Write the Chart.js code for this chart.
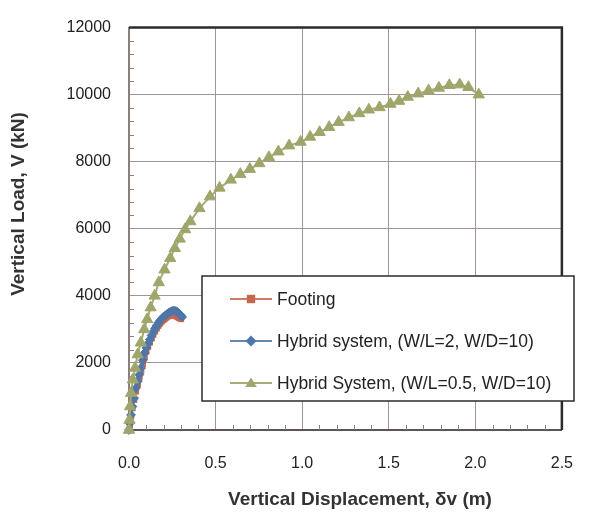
<!DOCTYPE html>
<html>
<head>
<meta charset="utf-8">
<script src="https://cdn.jsdelivr.net/npm/chart.js@4/dist/chart.umd.min.js"></script>
<style>
html,body{margin:0;padding:0;background:#fff;}
canvas{display:block;}
</style>
</head>
<body>
<canvas id="c" width="597" height="515"></canvas>
<script>
// ---- data ----
const seriesNames = ["Footing", "Hybrid system, (W/L=2, W/D=10)", "Hybrid System, (W/L=0.5, W/D=10)"];

const footingX = [0,0.005,0.012,0.02,0.03,0.04,0.05,0.06,0.07,0.08,0.09,0.1,0.11,0.12,0.13,0.14,0.15,0.16,0.17,0.18,0.19,0.2,0.21,0.22,0.23,0.24,0.25,0.26,0.27,0.28,0.29,0.3];
const footingY = [0,150,400,650,900,1150,1350,1560,1760,1960,2170,2340,2480,2610,2730,2840,2940,3030,3110,3180,3240,3290,3330,3370,3400,3420,3430,3420,3400,3370,3340,3310];

const hybrid2X = [0,0.005,0.012,0.02,0.03,0.04,0.05,0.06,0.07,0.08,0.09,0.1,0.11,0.12,0.13,0.14,0.15,0.16,0.17,0.18,0.19,0.2,0.21,0.22,0.23,0.24,0.25,0.26,0.27,0.28,0.29,0.3,0.307];
const hybrid2Y = [0,200,450,700,950,1250,1450,1650,1850,2080,2300,2450,2580,2700,2820,2930,3030,3120,3200,3270,3330,3380,3420,3460,3500,3530,3550,3560,3550,3520,3470,3420,3370];

const hybrid05X = [0,0.003,0.006,0.012,0.022,0.035,0.05,0.068,0.088,0.105,0.125,0.148,0.172,0.205,0.238,0.265,0.293,0.324,0.354,0.407,0.468,0.523,0.588,0.643,0.698,0.753,0.808,0.863,0.925,0.991,1.046,1.101,1.156,1.211,1.27,1.33,1.385,1.447,1.51,1.56,1.61,1.67,1.73,1.79,1.85,1.91,1.96,2.02];
const hybrid05Y = [0,300,700,1100,1500,1850,2250,2600,3000,3300,3650,4000,4400,4780,5120,5420,5700,5980,6220,6610,6960,7220,7460,7630,7780,7950,8130,8300,8480,8590,8740,8880,9030,9180,9320,9440,9550,9620,9720,9810,9930,10030,10120,10200,10280,10300,10220,10000];

const xMin = 0, xMax = 2.5, xStep = 0.5, xMinor = 0.1;
const yMin = 0, yMax = 12000, yStep = 2000, yMinor = 400;
const xTitle = "Vertical Displacement, \u03B4v (m)";
const yTitle = "Vertical Load, V (kN)";

// ---- styles ----
const colors = ["#c8664d", "#4f76a8", "#a0a66b"];
const lineColors = ["#d07a64", "#6585b3", "#a7ab76"];
const markers = ["rect", "rectRot", "triangle"];
const radii = [3.8, 4.4, 6.5];
const legendRadii = [4.2, 4.6, 5.5];
const FONT = "'Liberation Sans', Arial, sans-serif";

function pts(xs, ys){ return xs.map((x,i)=>({x:x, y:ys[i]})); }

const datasets = [
  {label: seriesNames[0], data: pts(footingX, footingY), order: 3},
  {label: seriesNames[1], data: pts(hybrid2X, hybrid2Y), order: 2},
  {label: seriesNames[2], data: pts(hybrid05X, hybrid05Y), order: 1}
].map((d,i)=>Object.assign(d, {
  showLine: true,
  borderColor: lineColors[i],
  backgroundColor: colors[i],
  pointBackgroundColor: colors[i],
  pointBorderColor: colors[i],
  pointBorderWidth: 1,
  pointStyle: markers[i],
  pointRadius: radii[i],
  borderWidth: 2,
  tension: 0,
  clip: false
}));

function drawMarker(ctx, style, x, y, r, color){
  ctx.save();
  ctx.fillStyle = color;
  ctx.beginPath();
  if (style === "rect") {
    ctx.rect(x - r, y - r, 2*r, 2*r);
  } else if (style === "rectRot") {
    ctx.moveTo(x, y - r*1.2); ctx.lineTo(x + r*1.2, y); ctx.lineTo(x, y + r*1.2); ctx.lineTo(x - r*1.2, y);
    ctx.closePath();
  } else {
    const h = r * 1.6;
    ctx.moveTo(x, y - h*0.62); ctx.lineTo(x + r*1.05, y + h*0.45); ctx.lineTo(x - r*1.05, y + h*0.45);
    ctx.closePath();
  }
  ctx.fill();
  ctx.restore();
}

const decor = {
  id: "decor",
  beforeDatasetsDraw(chart){
    const {ctx, chartArea: a, scales: {x, y}} = chart;
    ctx.save();
    ctx.strokeStyle = "#8a7f7f";
    ctx.lineWidth = 1;
    for (let v = yMin + yMinor; v < yMax - 1e-6; v += yMinor) {
      if (Math.abs(v / yStep - Math.round(v / yStep)) < 1e-6) continue;
      const p = Math.round(y.getPixelForValue(v)) + 0.5;
      ctx.beginPath(); ctx.moveTo(a.left, p); ctx.lineTo(a.left + 5, p); ctx.stroke();
    }
    for (let k = 1; k * xMinor < xMax - 1e-6; k++) {
      if (k % 5 === 0) continue;
      const p = Math.round(x.getPixelForValue(k * xMinor)) + 0.5;
      ctx.beginPath(); ctx.moveTo(p, a.bottom); ctx.lineTo(p, a.bottom - 5); ctx.stroke();
    }
    ctx.strokeStyle = "#2b2b2b";
    ctx.lineWidth = 2.5;
    ctx.beginPath();
    ctx.moveTo(a.left, a.top); ctx.lineTo(a.right, a.top); ctx.lineTo(a.right, a.bottom);
    ctx.stroke();
    ctx.restore();
  },
  afterDraw(chart){
    const {ctx} = chart;
    ctx.save();
    const L = 202, T = 276, R = 574, B = 401;
    ctx.fillStyle = "#fff";
    ctx.fillRect(L, T, R - L, B - T);
    ctx.strokeStyle = "#2b2b2b";
    ctx.lineWidth = 1.5;
    ctx.strokeRect(L, T, R - L, B - T);
    const rows = [299, 341, 383];
    ctx.font = "17.5px " + FONT;
    ctx.textBaseline = "middle";
    ctx.textAlign = "left";
    for (let i = 0; i < 3; i++) {
      const yy = rows[i];
      ctx.strokeStyle = lineColors[i];
      ctx.lineWidth = 2;
      ctx.beginPath(); ctx.moveTo(230, yy); ctx.lineTo(272, yy); ctx.stroke();
      drawMarker(ctx, markers[i], 251, yy, legendRadii[i], colors[i]);
      ctx.fillStyle = "#222";
      ctx.fillText(seriesNames[i], 277, yy + 1);
    }
    ctx.fillStyle = "#333";
    ctx.font = "bold 19px " + FONT;
    ctx.textAlign = "center";
    ctx.fillText(xTitle, 360, 500);
    ctx.translate(19, 204);
    ctx.rotate(-Math.PI / 2);
    ctx.fillText(yTitle, 0, 0);
    ctx.restore();
  }
};

new Chart(document.getElementById("c"), {
  type: "scatter",
  data: {datasets: datasets},
  plugins: [decor],
  options: {
    responsive: false,
    animation: false,
    layout: {padding: {left: 0, top: 18, right: 13, bottom: 0}},
    plugins: {legend: {display: false}, tooltip: {enabled: false}},
    scales: {
      x: {
        type: "linear", min: xMin, max: xMax,
        afterFit(s){ s.height = 85; },
        ticks: {stepSize: xStep, padding: 24, color: "#222", font: {size: 16, family: FONT},
                callback: v => Number(v).toFixed(1)},
        grid: {color: "#a39595", lineWidth: 1, drawTicks: false},
        border: {color: "#5e5555", width: 2}
      },
      y: {
        type: "linear", min: yMin, max: yMax,
        afterFit(s){ s.width = 129; },
        ticks: {stepSize: yStep, padding: 18, color: "#222", font: {size: 16, family: FONT},
                callback: v => String(v)},
        grid: {color: "#a39595", lineWidth: 1, drawTicks: false},
        border: {color: "#8a7f7f", width: 2}
      }
    }
  }
});
</script>
</body>
</html>
